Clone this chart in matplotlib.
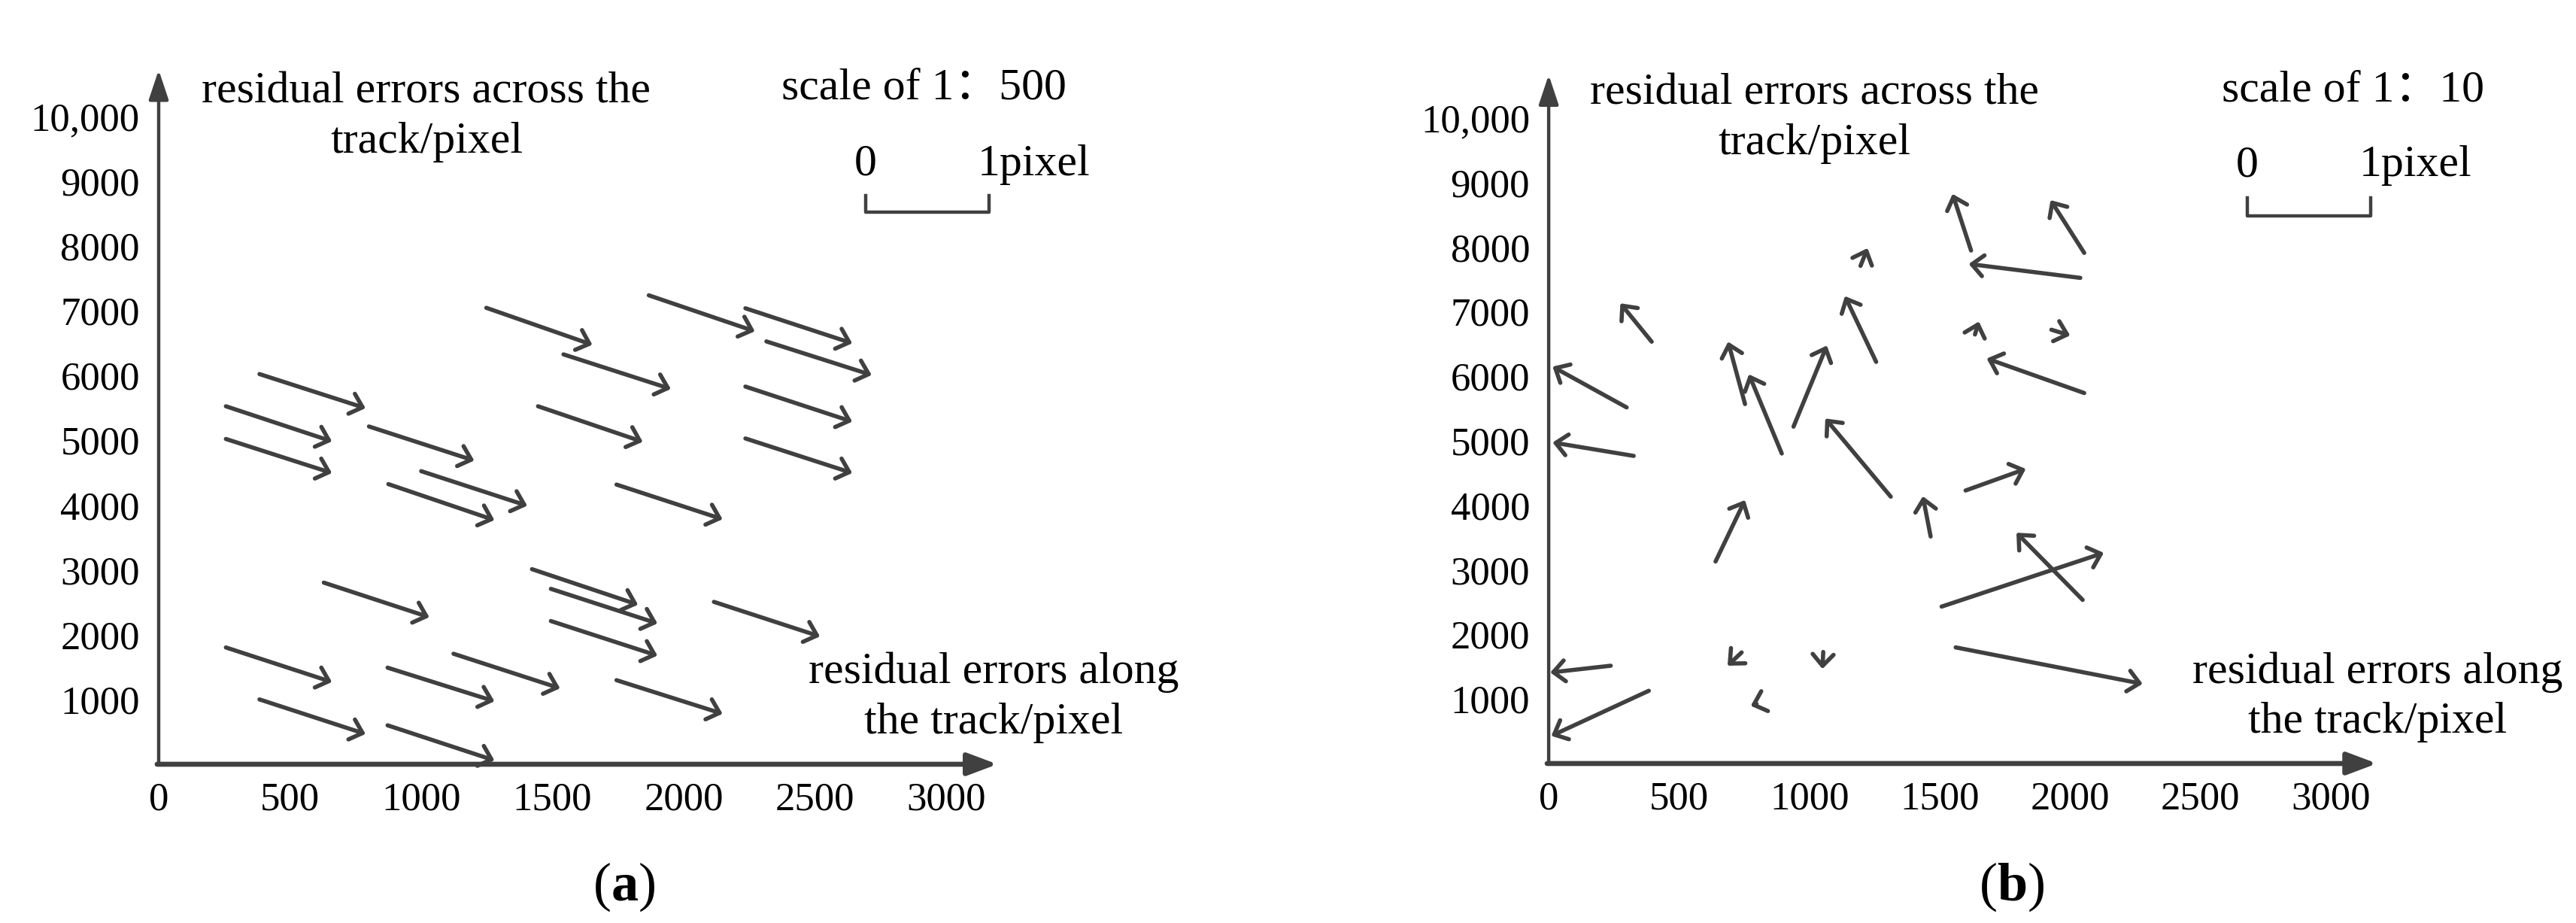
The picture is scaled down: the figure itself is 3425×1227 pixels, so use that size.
import matplotlib
matplotlib.use("Agg")
import matplotlib.pyplot as plt

# serif text, CJK font only as fallback for the full-width colon
plt.rcParams["font.family"] = ["Liberation Serif", "Noto Sans CJK SC"]
plt.rcParams["mathtext.fontset"] = "custom"
plt.rcParams["mathtext.rm"] = "Liberation Serif"
plt.rcParams["mathtext.bf"] = "Liberation Serif:bold"

INK = "#404040"
FS = 38      # tick labels
FS_TXT = 43  # annotations

x_ticks = [0, 500, 1000, 1500, 2000, 2500, 3000]
y_ticks = [1000, 2000, 3000, 4000, 5000, 6000, 7000, 8000, 9000, 10000]
y_tick_labels = ["1000", "2000", "3000", "4000", "5000", "6000", "7000", "8000", "9000", "10,000"]

# (a) scale 1:500 - tail and tip of each residual vector
a_tail_x = [1248, 1867, 2235, 2315, 1542, 384, 2235, 256, 1445, 801, 256, 2235, 1000,
            875, 1744, 1422, 629, 1494, 2115, 1494, 256, 1123, 872, 1744, 384, 872]
a_tail_y = [7047, 7240, 7040, 6528, 6328, 6024, 5831, 5527, 5527, 5215, 5022, 5030, 4525,
            4325, 4318, 3012, 2804, 2708, 2507, 2211, 1803, 1706, 1491, 1298, 1001, 601]
a_tip_x = [1652, 2271, 2642, 2716, 1951, 788, 2642, 660, 1844, 1202, 660, 2642, 1404,
           1279, 2148, 1826, 1031, 1900, 2519, 1900, 660, 1529, 1279, 2148, 788, 1279]
a_tip_y = [6476, 6684, 6499, 6009, 5794, 5497, 5289, 4985, 4978, 4688, 4496, 4496, 3991,
           3769, 3783, 2463, 2270, 2174, 1973, 1677, 1269, 1172, 972, 779, 467, 59]

# (b) scale 1:10
b_tail_x = [1620, 2054, 1196, 2039, 395, 1256, 1635, 1928, 2054, 299, 753, 894, 939,
            326, 1312, 1465, 1599, 640, 2048, 1507, 1561, 238, 740, 1053, 797, 384]
b_tail_y = [7948, 7911, 7710, 7524, 6535, 6223, 6647, 6721, 5740, 5517, 5569, 4803, 5219,
            4766, 4134, 3517, 4230, 3130, 2535, 2431, 1799, 1515, 1721, 1728, 924, 1127]
b_tip_x = [1549, 1925, 1223, 1611, 275, 1136, 1650, 2000, 1680, 15, 688, 768, 1067,
           15, 1061, 1435, 1830, 753, 1794, 2129, 2278, 6, 686, 1050, 775, 10]
b_tip_y = [8825, 8729, 7985, 7740, 7130, 7242, 6848, 6632, 6275, 6149, 6535, 6030, 6476,
           4974, 5346, 4141, 4565, 4082, 3576, 3264, 1234, 1410, 1515, 1465, 894, 428]


def draw_panel(ax, tail_x, tail_y, tip_x, tip_y, scale_text, scale_x, x_tip, y_tip, bar_x, bar_y):
    ax.set_xlim(0, 3300)
    ax.set_ylim(0, 11000)
    for s in ax.spines.values():
        s.set_visible(False)
    ax.set_xticks(x_ticks)
    ax.set_xticklabels([str(t) for t in x_ticks])
    ax.set_yticks(y_ticks)
    ax.set_yticklabels(y_tick_labels)
    ax.tick_params(axis="y", length=0, labelsize=FS, pad=18)
    ax.tick_params(axis="x", length=0, labelsize=FS, pad=17)

    # axis arrows
    ax.annotate("", xy=(x_tip, 0), xytext=(-6, 0), annotation_clip=False,
                arrowprops=dict(arrowstyle="-|>,head_length=24,head_width=9", mutation_scale=1,
                                lw=4.8, color=INK, shrinkA=0, shrinkB=0))
    ax.annotate("", xy=(0, y_tip), xytext=(0, 0), annotation_clip=False,
                arrowprops=dict(arrowstyle="-|>,head_length=24,head_width=8", mutation_scale=1,
                                lw=3.2, color=INK, shrinkA=0, shrinkB=0))

    # residual vectors
    for x0, y0, x1, y1 in zip(tail_x, tail_y, tip_x, tip_y):
        ax.annotate("", xy=(x1, y1), xytext=(x0, y0), annotation_clip=False,
                    arrowprops=dict(arrowstyle="->,head_length=11,head_width=10", mutation_scale=1,
                                    lw=4.0, color=INK, shrinkA=0, shrinkB=0,
                                    capstyle="round", joinstyle="round"))

    ax.text(1020, 9990, "residual errors across the\ntrack/pixel", ha="center", va="center",
            fontsize=FS_TXT, linespacing=1.3)
    ax.text(3180, 1030, "residual errors along\nthe track/pixel", ha="center", va="center",
            fontsize=FS_TXT, linespacing=1.3)

    # scale bar
    ax.text(scale_x, 10430, scale_text, ha="center", va="center", fontsize=FS_TXT)
    ax.text(bar_x[0], 9260, "0", ha="center", va="center", fontsize=FS_TXT)
    ax.text(bar_x[1] - 45, 9260, "1pixel", ha="left", va="center", fontsize=FS_TXT)
    ax.plot([bar_x[0], bar_x[0], bar_x[1], bar_x[1]], [bar_y[0], bar_y[1], bar_y[1], bar_y[0]],
            color=INK, lw=3.2, clip_on=False)


fig = plt.figure(figsize=(34.25, 12.27), dpi=100)
ax_a = fig.add_axes([0.0616, 0.1720, 0.3363, 0.7719])
ax_b = fig.add_axes([0.6012, 0.1728, 0.3340, 0.7692])

draw_panel(ax_a, a_tail_x, a_tail_y, a_tip_x, a_tip_y, "scale of 1：500", 2916, 3195, 10720,
           [2693, 3163], [8780, 8525])
draw_panel(ax_b, b_tail_x, b_tail_y, b_tip_x, b_tip_y, "scale of 1：10", 3084, 3177, 10670,
           [2680, 3154], [8765, 8485])

fig.text(0.2423, 0.039, r"($\mathbf{a}$)", ha="center", va="center", fontsize=52)
fig.text(0.781, 0.039, r"($\mathbf{b}$)", ha="center", va="center", fontsize=52)

fig.savefig("out.png", dpi=100)
